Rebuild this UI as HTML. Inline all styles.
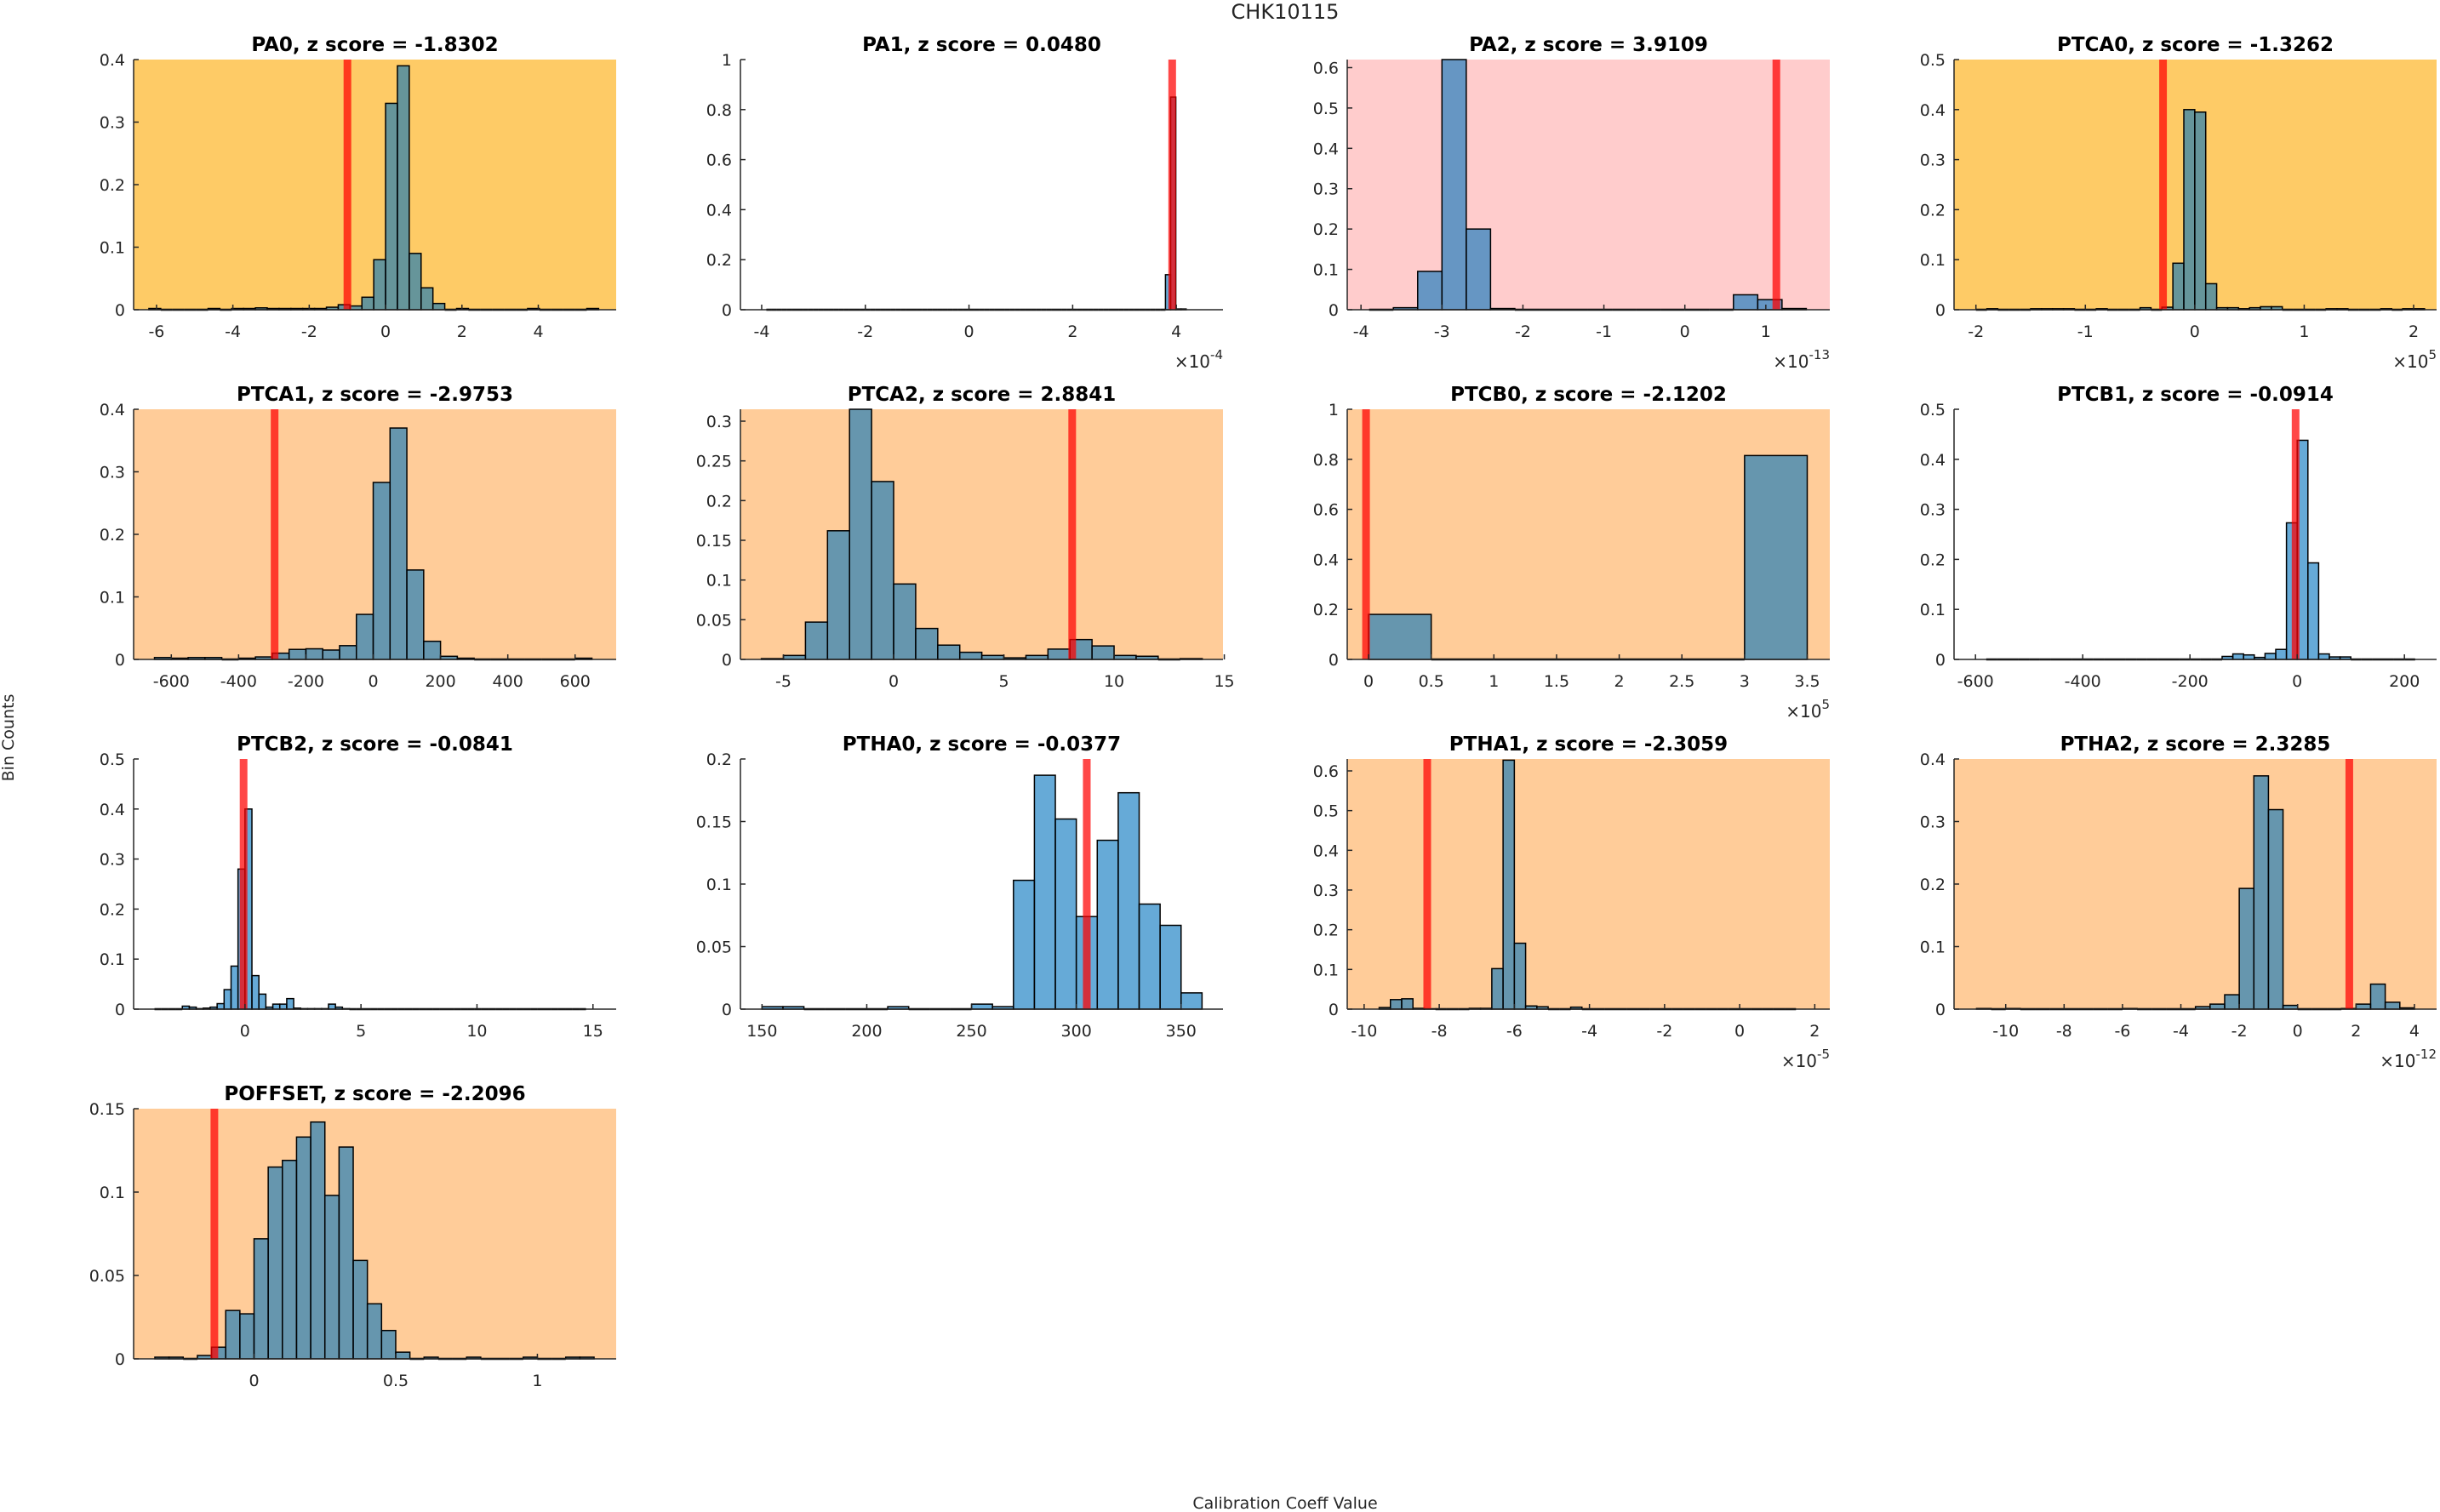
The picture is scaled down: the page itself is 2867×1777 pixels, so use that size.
<!DOCTYPE html>
<html><head><meta charset="utf-8"><style>
html,body{margin:0;padding:0;background:#fff;}
svg{display:block;font-family:"DejaVu Sans","Liberation Sans",sans-serif;}
</style></head><body>
<svg id="fig" width="2867" height="1777" viewBox="0 0 2867 1777" xmlns="http://www.w3.org/2000/svg">
<text x="1510" y="22" font-size="24" text-anchor="middle" fill="#262626">CHK10115</text>
<text transform="translate(16,867) rotate(-90)" font-size="19" text-anchor="middle" fill="#262626">Bin Counts</text>
<text x="1510" y="1773" font-size="19" text-anchor="middle" fill="#262626">Calibration Coeff Value</text>
</svg>
<script>
// ---- data ----
const pa0Counts=[0.002,0,0,0,0,0.002,0,0.002,0.002,0.003,0.002,0.002,0.002,0.002,0.002,0.004,0.008,0.006,0.02,0.08,0.33,0.39,0.09,0.035,0.01,0,0.002,0,0,0,0,0,0.002,0,0,0,0,0.002];
const pa1Counts=[0,0,0,0,0,0,0,0,0,0, 0,0,0,0,0,0,0,0,0,0, 0,0,0,0,0,0,0,0,0,0, 0,0,0,0,0,0,0,0,0,0, 0,0,0,0,0,0,0,0,0,0, 0,0,0,0,0,0,0,0,0,0, 0,0,0,0,0,0,0,0,0,0, 0,0,0,0,0,0,0,0.14,0.85,0.003,0.003];
const pa2Counts=[0,0.005,0.095,0.62,0.2,0.003,0,0,0,0,0,0,0,0,0,0.037,0.025,0.003];
const ptca0Counts=[0,0.002,0,0,0,0.002,0.002,0.002,0.002,0,0,0.002,0,0,0,0.004,0,0.005,0.093,0.4,0.395,0.052,0.004,0.004,0.002,0.004,0.006,0.006,0,0,0,0,0.002,0.002,0,0,0,0.002,0,0.002,0.002];
const ptca1Counts=[0.003,0.002,0.003,0.003,0,0.002,0.004,0.01,0.016,0.017,0.015,0.022,0.072,0.283,0.37,0.143,0.029,0.005,0.002,0,0,0,0,0,0,0.002];
const ptca2Counts=[0.001,0.005,0.047,0.162,0.315,0.224,0.095,0.039,0.018,0.009,0.005,0.002,0.005,0.013,0.025,0.017,0.005,0.004,0,0.001];
const ptcb0Counts=[0.18,0,0,0,0,0,0.815];
const ptcb1Counts=[0,0,0,0,0,0,0,0,0,0,0,0,0,0,0,0,0,0,0,0,0,0,0.006,0.011,0.009,0.004,0.012,0.02,0.273,0.438,0.193,0.011,0.005,0.005,0,0,0,0,0,0];
const ptcb2Counts=[0,0,0,0,0.006,0.004,0.001,0.002,0.004,0.011,0.039,0.086,0.28,0.40,0.067,0.03,0.004,0.01,0.01,0.021,0.002,0.001,0.001,0.001,0.001,0.01,0.004,0.001, 0,0,0,0,0,0,0,0,0,0, 0,0,0,0,0,0,0,0,0,0, 0,0,0,0,0,0,0,0,0,0, 0,0,0,0];
const ptha0Counts=[0.002,0.002,0,0,0,0,0.002,0,0,0,0.004,0.002,0.103,0.187,0.152,0.074,0.135,0.173,0.084,0.067,0.013];
const ptha1Counts=[0.004,0.024,0.026,0.002,0.001,0,0,0,0.002,0.002,0.102,0.627,0.166,0.008,0.006,0,0,0.005,0, 0,0,0,0,0,0,0,0,0,0, 0,0,0,0,0,0,0,0];
const ptha2Counts=[0.001,0,0.001,0,0,0,0,0,0,0,0.001,0,0,0,0,0.004,0.008,0.023,0.193,0.373,0.319,0.006,0,0,0,0.001,0.008,0.04,0.011,0.002];
const poffsetCounts=[0.001,0.001,0,0.002,0.007,0.029,0.027,0.072,0.115,0.119,0.133,0.142,0.098,0.127,0.059,0.033,0.017,0.004,0,0.001,0,0,0.001,0,0,0,0.001,0,0,0.001,0.001];

const titles=["PA0, z score = -1.8302","PA1, z score = 0.0480","PA2, z score = 3.9109","PTCA0, z score = -1.3262","PTCA1, z score = -2.9753","PTCA2, z score = 2.8841","PTCB0, z score = -2.1202","PTCB1, z score = -0.0914","PTCB2, z score = -0.0841","PTHA0, z score = -0.0377","PTHA1, z score = -2.3059","PTHA2, z score = 2.3285","POFFSET, z score = -2.2096"];
const countsList=[pa0Counts,pa1Counts,pa2Counts,ptca0Counts,ptca1Counts,ptca2Counts,ptcb0Counts,ptcb1Counts,ptcb2Counts,ptha0Counts,ptha1Counts,ptha2Counts,poffsetCounts];
const binStarts=[-6.2,-3.91,-3.9,-2.0,-650,-6,0,-580,-3.9,150,-9.6,-11,-0.35];
const binWidths=[0.31,0.1,0.3,0.1,50,1,0.5,20,0.3,10,0.3,0.5,0.05];
const redValues=[-1.0,3.92,1.13,-0.29,-293,8.1,-0.02,-3,-0.06,305,-8.32,1.77,-0.14];
const xMins=[-6.6,-4.41,-4.17,-2.2,-712,-6.95,-0.17,-640,-4.8,139.7,-10.45,-11.77,-0.425];
const xMaxs=[6.04,4.9,1.79,2.21,722,14.94,3.68,260,16,370,2.4,4.76,1.278];
const yMaxs=[0.4,1,0.62,0.5,0.4,0.315,1,0.5,0.5,0.2,0.63,0.4,0.15];
const xTickLabels=[[-6,-4,-2,0,2,4],[-4,-2,0,2,4],[-4,-3,-2,-1,0,1],[-2,-1,0,1,2],[-600,-400,-200,0,200,400,600],[-5,0,5,10,15],[0,0.5,1,1.5,2,2.5,3,3.5],[-600,-400,-200,0,200],[0,5,10,15],[150,200,250,300,350],[-10,-8,-6,-4,-2,0,2],[-10,-8,-6,-4,-2,0,2,4],[0,0.5,1]];
const yTickLabels=[[0,0.1,0.2,0.3,0.4],[0,0.2,0.4,0.6,0.8,1],[0,0.1,0.2,0.3,0.4,0.5,0.6],[0,0.1,0.2,0.3,0.4,0.5],[0,0.1,0.2,0.3,0.4],[0,0.05,0.1,0.15,0.2,0.25,0.3],[0,0.2,0.4,0.6,0.8,1],[0,0.1,0.2,0.3,0.4,0.5],[0,0.1,0.2,0.3,0.4,0.5],[0,0.05,0.1,0.15,0.2],[0,0.1,0.2,0.3,0.4,0.5,0.6],[0,0.1,0.2,0.3,0.4],[0,0.05,0.1,0.15]];
const exponents=["","-4","-13","5","","","5","","","","-5","-12",""];
const bgColors=["#fecb66","","#ffcccc","#fecb66","#ffcc99","#ffcc99","#ffcc99","","","","#ffcc99","#ffcc99","#ffcc99"];

// ---- layout ----
const NS="http://www.w3.org/2000/svg";
const svg=document.getElementById('fig');
const colX=[157,870,1583,2296], rowY=[70,481,892,1303], AW=567, AH=294;
function mk(tag,attrs,parent){const e=document.createElementNS(NS,tag);for(const k in attrs)e.setAttribute(k,attrs[k]);(parent||svg).appendChild(e);return e;}

countsList.forEach((counts,p)=>{
  const L=colX[p%4], T=rowY[Math.floor(p/4)], B=T+AH;
  const xmin=xMins[p], xmax=xMaxs[p], ymax=yMaxs[p];
  const xs=v=>L+(v-xmin)/(xmax-xmin)*AW;
  const ys=v=>B-v/ymax*AH;
  const g=mk('g',{});
  
  
  if(bgColors[p]){
    const bg=mk('rect',{x:L,y:T,width:AW,height:AH,fill:bgColors[p]},g);
    
    
  }
  counts.forEach((c,i)=>{
    const x0=xs(binStarts[p]+i*binWidths[p]), x1=xs(binStarts[p]+(i+1)*binWidths[p]);
    if(c>0){
      const r=mk('rect',{x:x0,y:ys(c),width:x1-x0,height:B-ys(c),fill:'rgba(0,114,189,0.6)',stroke:'#000','stroke-width':1.5},g);
      
      
    } else {
      const l=mk('line',{x1:x0,x2:x1,y1:B,y2:B,stroke:'#000','stroke-width':2.5},g);
      
      
    }
  });
  const red=mk('rect',{x:xs(redValues[p])-4.5,y:T,width:9,height:AH,fill:'rgba(255,0,0,0.72)'},g);
  
  
  const ya=mk('line',{x1:L,x2:L,y1:T,y2:B,stroke:'#262626','stroke-width':1.5},g);
  
  
  const xa=mk('line',{x1:L,x2:L+AW,y1:B,y2:B,stroke:'#262626','stroke-width':1.5},g);
  
  
  xTickLabels[p].forEach(v=>{
    const x=xs(v);
    mk('line',{x1:x,x2:x,y1:B,y2:B-6,stroke:'#262626','stroke-width':1.5},g);
    const t=mk('text',{x:x,y:B+32,'font-size':19,'text-anchor':'middle',fill:'#262626'},g);
    t.textContent=String(v);
    
    
  });
  yTickLabels[p].forEach(v=>{
    const y=ys(v);
    mk('line',{x1:L,x2:L+6,y1:y,y2:y,stroke:'#262626','stroke-width':1.5},g);
    const t=mk('text',{x:L-10,y:y+7,'font-size':19,'text-anchor':'end',fill:'#262626'},g);
    t.textContent=String(v);
    
    
  });
  const tt=mk('text',{x:L+AW/2,y:T-10,'font-size':23,'font-weight':'bold','text-anchor':'middle',fill:'#000'},g);
  tt.textContent=titles[p];
  
  
  if(exponents[p]){
    const ex=mk('text',{x:L+AW,y:B+68,'font-size':20,'text-anchor':'end',fill:'#262626'},g);
    
    
    const a=mk('tspan',{},ex); a.textContent='×10';
    const b=mk('tspan',{dy:-10,'font-size':15},ex); b.textContent=exponents[p];
  }
});
</script>
</body></html>
